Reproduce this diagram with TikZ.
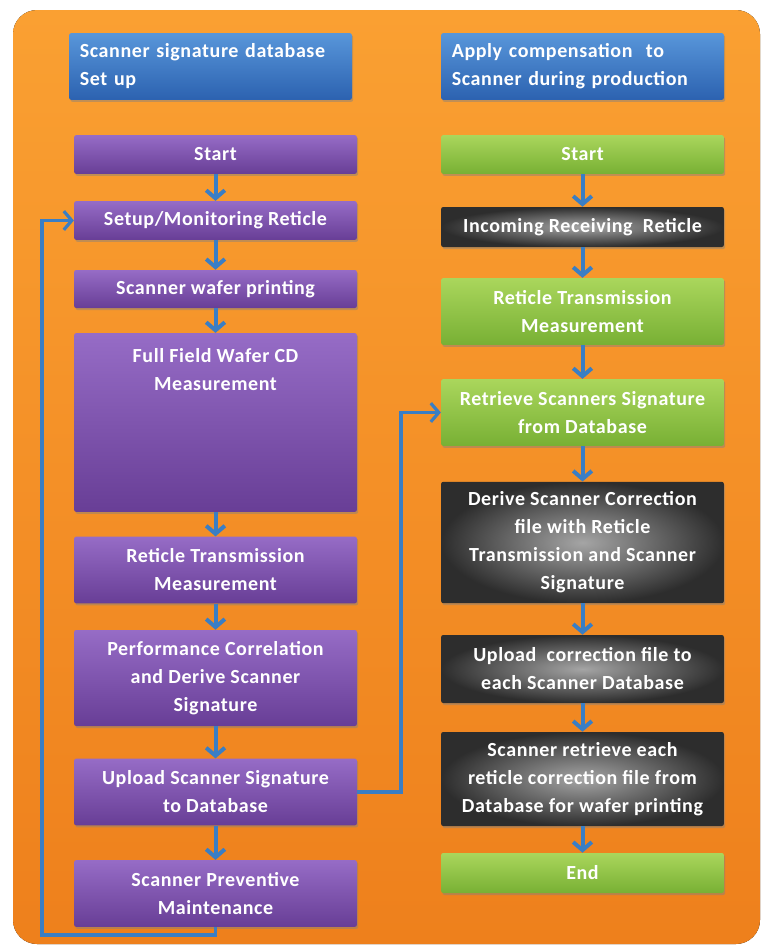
\documentclass[tikz,border=0pt]{standalone}
\usepackage{fontspec}
\setmainfont{Carlito}
\usepackage{xcolor}
\usetikzlibrary{arrows.meta, shadows, positioning}
\definecolor{bgtop}{RGB}{250,160,50}
\definecolor{bgbot}{RGB}{238,128,28}
\definecolor{purpletop}{RGB}{150,108,198}
\definecolor{purplebot}{RGB}{104,62,150}
\definecolor{greentop}{RGB}{170,214,92}
\definecolor{greenbot}{RGB}{120,176,52}
\definecolor{blackmid}{RGB}{165,165,165}
\definecolor{blackout}{RGB}{45,45,45}
\definecolor{bluetop}{RGB}{88,150,218}
\definecolor{bluebot}{RGB}{44,98,176}
\definecolor{linkblue}{RGB}{58,126,196}

\begin{document}
\begin{tikzpicture}[x=0.75pt, y=-0.75pt,
    box/.style={rectangle, rounded corners=1.5pt, minimum width=212pt, align=center, text=white, font=\bfseries\fontsize{15}{21}\selectfont\addfontfeature{LetterSpace=3}, inner sep=2pt, drop shadow={shadow xshift=1pt, shadow yshift=-1.5pt, opacity=0.45}},
    purplebox/.style={box, top color=purpletop, bottom color=purplebot},
    greenbox/.style={box, top color=greentop, bottom color=greenbot},
    blackbox/.style={box, inner color=blackmid, outer color=blackout},
    headbox/.style={box, top color=bluetop, bottom color=bluebot, align=left, text width=196pt, inner xsep=8pt, minimum height=50pt},
    arrow/.style={-{Straight Barb[length=6pt,width=14pt]}, line width=3pt, linkblue},
    backline/.style={arrow, line width=2.4pt}
]
    \useasboundingbox (0,0) rectangle (762,947);
    % Background
    \fill[top color=bgtop, bottom color=bgbot, rounded corners=18pt] (13,10) rectangle (760,944);

    % Headers
    \node[headbox] (headl) at (210.5,66.5) {Scanner signature database\\Set up};
    \node[headbox] (headr) at (582.5,66.5) {Apply compensation \ to\\Scanner during production};

    % Signature database set up
    \node[purplebox, minimum height=29pt] (startl) at (215.5,154.5) {Start};
    \node[purplebox, minimum height=29pt] (setup) at (215.5,220.5) {Setup/Monitoring Reticle};
    \node[purplebox, minimum height=28.5pt] (print) at (215.5,289) {Scanner wafer printing};
    \node[purplebox, minimum height=134pt, text depth=80pt] (fullcd) at (215.5,422.5) {Full Field Wafer CD\\Measurement};
    \node[purplebox, minimum height=50pt] (transl) at (215.5,570) {Reticle Transmission\\Measurement};
    \node[purplebox, minimum height=72pt] (perf) at (215.5,678) {Performance Correlation\\and Derive Scanner\\Signature};
    \node[purplebox, minimum height=50pt] (upsig) at (215.5,792) {Upload Scanner Signature\\to Database};
    \node[purplebox, minimum height=50pt] (maint) at (215.5,893.5) {Scanner Preventive\\Maintenance};

    % Compensation during production
    \node[greenbox, minimum height=29pt] (startr) at (582.5,154.5) {Start};
    \node[blackbox, minimum height=30pt] (incoming) at (582.5,227) {Incoming Receiving \ Reticle};
    \node[greenbox, minimum height=50pt] (transr) at (582.5,311.5) {Reticle Transmission\\Measurement};
    \node[greenbox, minimum height=50pt] (retrieve) at (582.5,412.5) {Retrieve Scanners Signature\\from Database};
    \node[blackbox, minimum height=91pt] (derive) at (582.5,542.5) {Derive Scanner Correction\\file with Reticle\\Transmission and Scanner\\Signature};
    \node[blackbox, minimum height=51pt] (upcorr) at (582.5,669) {Upload \ correction file to\\each Scanner Database};
    \node[blackbox, minimum height=70.5pt] (scanret) at (582.5,779) {Scanner retrieve each\\reticle correction file from\\Database for wafer printing};
    \node[greenbox, minimum height=30pt] (endr) at (582.5,873) {End};

    % Arrows
    \draw[arrow] (startl) -- (setup);
    \draw[arrow] (setup) -- (print);
    \draw[arrow] (print) -- (fullcd);
    \draw[arrow] (fullcd) -- (transl);
    \draw[arrow] (transl) -- (perf);
    \draw[arrow] (perf) -- (upsig);
    \draw[arrow] (upsig) -- (maint);

    \draw[arrow] (startr) -- (incoming);
    \draw[arrow] (incoming) -- (transr);
    \draw[arrow] (transr) -- (retrieve);
    \draw[arrow] (retrieve) -- (derive);
    \draw[arrow] (derive) -- (upcorr);
    \draw[arrow] (upcorr) -- (scanret);
    \draw[arrow] (scanret) -- (endr);

    % Feedback and link
    \coordinate (loopl) at (42,935);
    \draw[backline] (maint.south) |- (loopl) |- (setup.west);
    \coordinate (linkr) at (401,792);
    \draw[backline] (upsig.east) -- (linkr) |- (retrieve.west);

\end{tikzpicture}
\end{document}
